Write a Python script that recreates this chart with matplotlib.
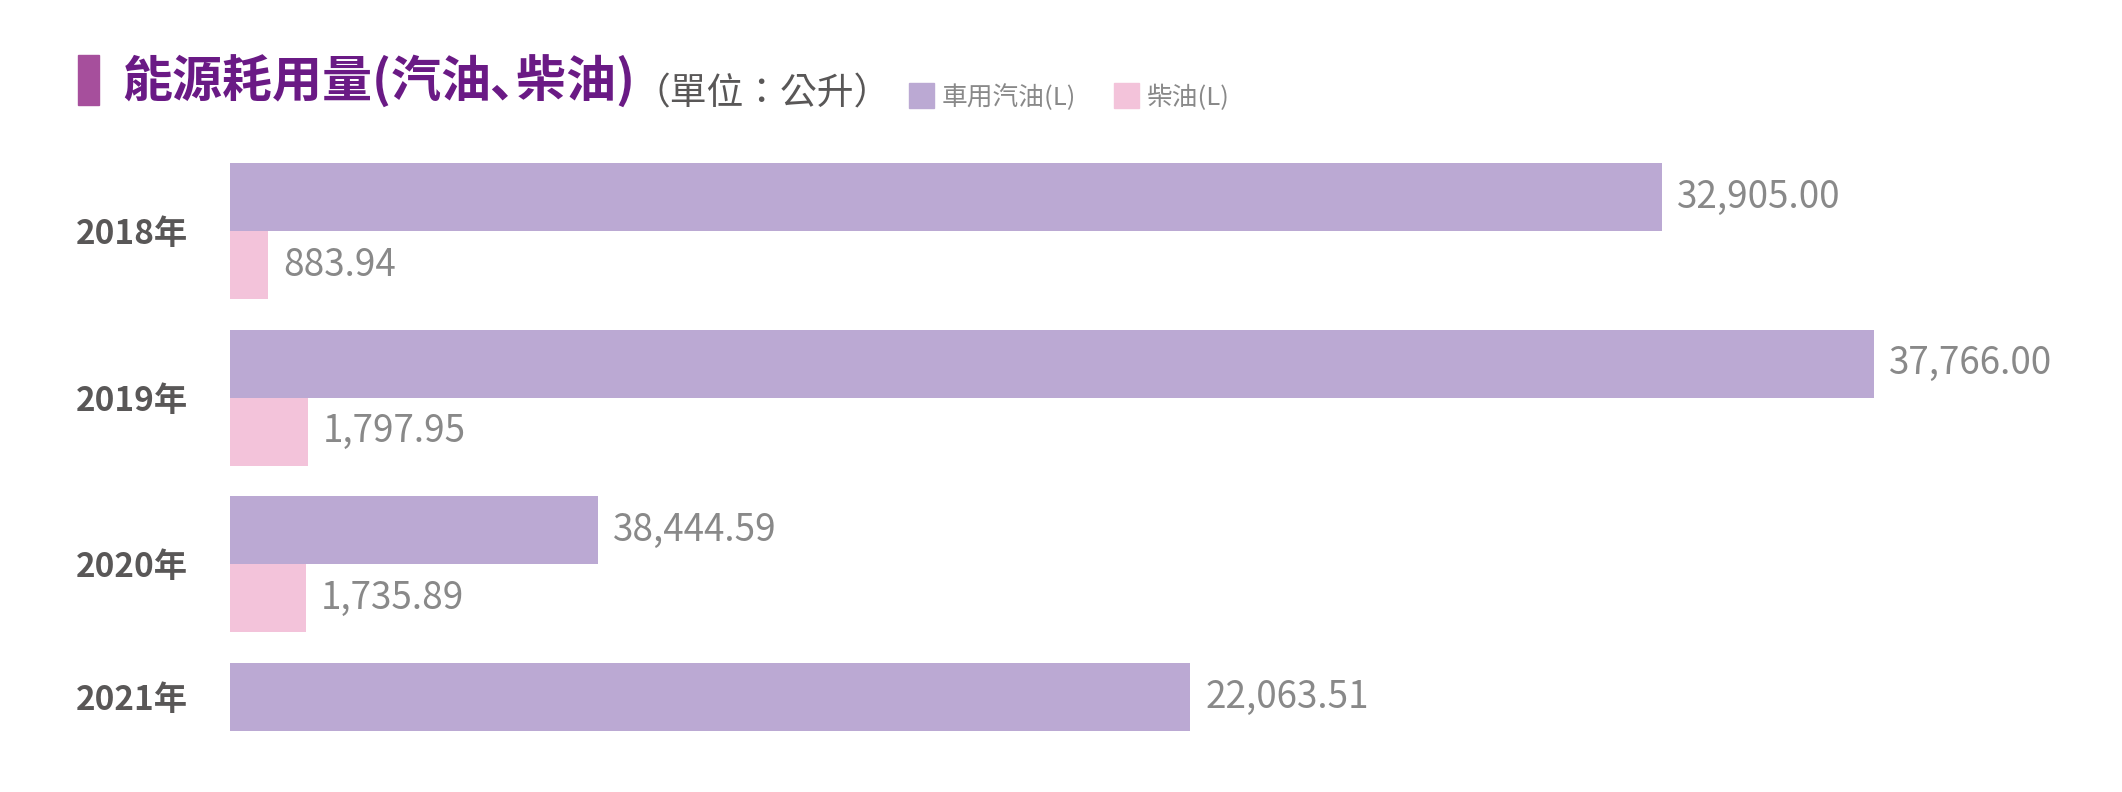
import matplotlib
matplotlib.use("Agg")
import matplotlib.pyplot as plt
from matplotlib.patches import Rectangle
import numpy as np

plt.rcParams['font.family'] = ['Noto Sans CJK TC', 'DejaVu Sans']

# data
years = ["2018年", "2019年", "2020年", "2021年"]
gasoline = [32905.00, 37766.00, 8444.59, 22063.51]  # drawn bar length
# the printed labels (2020 label reads 38,444.59 while its bar is ~8,444)
gasoline_labels = ["32,905.00", "37,766.00", "38,444.59", "22,063.51"]
diesel = [883.94, 1797.95, 1735.89, np.nan]

title = "能源耗用量(汽油\uff64柴油)"   # halfwidth ideographic comma keeps it tight
unit = "（單位：公升）"
series_names = ["車用汽油(L)", "柴油(L)"]

c_gas = "#BBA9D3"
c_diesel = "#F3C3DA"
c_title = "#6A1A85"
c_grey = "#595757"
c_value = "#898989"

W, H = 2122, 792
fig = plt.figure(figsize=(W / 100, H / 100), dpi=100)


def fx(px):
    return px / W


def fy(py):
    return 1 - py / H


ax = fig.add_axes([fx(230), fy(731), fx(W - 230), (731 - 163) / H])

# stack the groups top to bottom, each group as tall as the bars it holds
bar_h = 1.0
gap = 0.45
cursor = 0.0
gas_y, dsl_y, centers = [], [], []
for g, d in zip(gasoline, diesel):
    n = 1 if np.isnan(d) else 2
    gas_y.append(cursor + bar_h / 2)
    dsl_y.append(cursor + bar_h * 1.5)
    centers.append(cursor + n * bar_h / 2)
    cursor += n * bar_h + gap
total = cursor - gap

ax.barh(gas_y, gasoline, height=bar_h, color=c_gas)
dsl_mask = ~np.isnan(diesel)
ax.barh(np.array(dsl_y)[dsl_mask], np.array(diesel)[dsl_mask],
        height=bar_h, color=c_diesel)

for y, v, lab in zip(gas_y, gasoline, gasoline_labels):
    ax.annotate(lab, (v, y), xytext=(10.8, 0), textcoords="offset points",
                va="center", ha="left", fontsize=26.5, color=c_value)
for y, v in zip(dsl_y, diesel):
    if np.isnan(v):
        continue
    ax.annotate(f"{v:,.2f}", (v, y), xytext=(10.8, 0), textcoords="offset points",
                va="center", ha="left", fontsize=26.5, color=c_value)

ax.set_xlim(0, 43474)
ax.set_ylim(total, 0)
ax.set_yticks(centers)
ax.set_yticklabels(years, fontsize=24, fontweight="bold", color=c_grey)
ax.tick_params(axis="y", length=0, pad=30)
ax.set_xticks([])
for s in ax.spines.values():
    s.set_visible(False)

# title block
fig.patches.append(Rectangle((fx(78), fy(105)), fx(21), 50 / H,
                             transform=fig.transFigure, color="#A64F9C"))
fig.text(fx(122), fy(98), title, fontsize=36, fontweight="bold",
         color=c_title, va="baseline")
fig.text(fx(633), fy(104), unit, fontsize=26.5, color=c_grey, va="baseline")

# legend
leg_x = [909, 1114]
for x0, name, col in zip(leg_x, series_names, [c_gas, c_diesel]):
    fig.patches.append(Rectangle((fx(x0), fy(108)), fx(25), 25 / H,
                                 transform=fig.transFigure, color=col))
    fig.text(fx(x0 + 33), fy(105), name, fontsize=18.5, color=c_value,
             va="baseline")

fig.savefig("out.png", dpi=100)
